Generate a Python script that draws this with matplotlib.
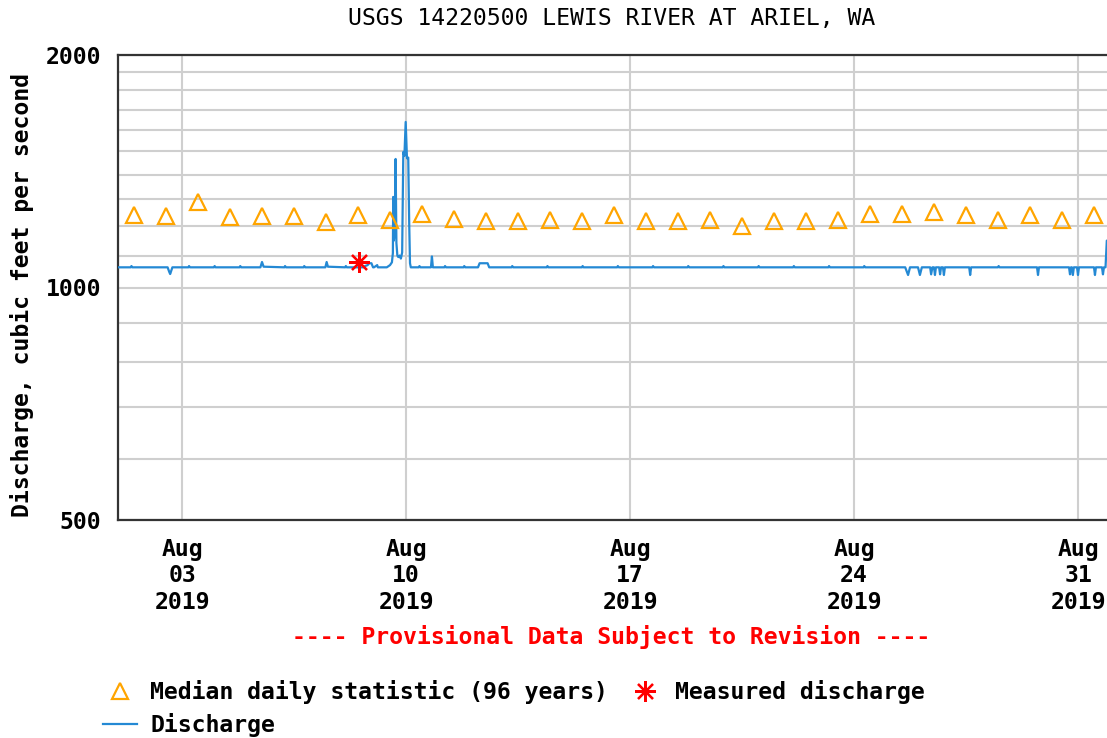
import numpy as np
import pandas as pd
import matplotlib
matplotlib.use("Agg")
import matplotlib.pyplot as plt
import matplotlib.dates as mdates
from matplotlib.lines import Line2D
from matplotlib.ticker import FixedLocator, NullFormatter, FixedFormatter

# ---------------- data ----------------
title = "USGS 14220500 LEWIS RIVER AT ARIEL, WA"
ylabel = "Discharge, cubic feet per second"
start = pd.Timestamp("2019-08-01 00:00")

# daily median statistic (plotted at noon of each day, Aug 1..31)
median_days = list(range(1, 32))
median_vals = [1240, 1238, 1290, 1235, 1238, 1238, 1215, 1242, 1222, 1245,
               1225, 1218, 1218, 1222, 1218, 1240, 1220, 1218, 1222, 1201,
               1218, 1218, 1222, 1246, 1246, 1252, 1240, 1222, 1240, 1222, 1240]

# measured discharge
meas_day = [7.53]
meas_val = [1079]

# instantaneous discharge (time in days after Aug 1 00:00, value in cfs)
q_days = [0.00, 0.40, 0.42, 0.45, 1.00, 1.55, 1.60, 1.63, 1.66, 1.70, 2.20, 2.22, 2.25,
          3.00, 3.02, 3.05, 3.80, 3.82, 3.85, 4.45, 4.50, 4.55, 5.20, 5.22, 5.25,
          5.80, 5.82, 5.85, 6.48, 6.52, 6.56, 7.10, 7.12, 7.15, 7.70, 7.72, 7.80,
          7.85, 7.92, 7.97, 8.00, 8.10, 8.12, 8.20, 8.40, 8.50, 8.56, 8.59, 8.60,
          8.62, 8.65, 8.675, 8.70, 8.73, 8.76, 8.80, 8.84, 8.88, 8.916, 8.95, 8.99,
          9.03, 9.07, 9.10, 9.125, 9.15, 9.40, 9.42, 9.45, 9.78, 9.81, 9.84, 10.20,
          10.22, 10.25, 10.80, 10.82, 10.85, 11.25, 11.30, 11.45, 11.55, 11.60, 12.30,
          12.32, 12.35, 13.40, 13.42, 13.45, 14.50, 14.52, 14.55, 15.60, 15.62, 15.65,
          16.70, 16.72, 16.75, 17.80, 17.82, 17.85, 18.90, 18.92, 18.95, 20.00, 20.02,
          20.05, 21.10, 21.12, 21.15, 22.20, 22.22, 22.25, 23.30, 23.32, 23.35, 24.60,
          24.69, 24.75, 25.00, 25.06, 25.12, 25.38, 25.41, 25.45, 25.50, 25.53, 25.56,
          25.66, 25.69, 25.72, 25.78, 25.81, 25.84, 26.60, 26.63, 26.66, 27.50, 27.52,
          27.55, 28.72, 28.75, 28.78, 29.72, 29.75, 29.78, 29.81, 29.84, 29.87, 29.97,
          30.00, 30.03, 30.50, 30.53, 30.56, 30.75, 30.78, 30.81, 30.86, 30.90, 31.00]
q_vals = [1062, 1062, 1066, 1062, 1062, 1062, 1048, 1041, 1050, 1062, 1062, 1066, 1062,
          1062, 1066, 1062, 1062, 1066, 1062, 1062, 1079, 1064, 1062, 1066, 1062,
          1062, 1066, 1062, 1062, 1079, 1064, 1062, 1066, 1062, 1062, 1066, 1069,
          1075, 1075, 1062, 1062, 1069, 1062, 1062, 1062, 1069, 1078, 1108, 1310,
          1150, 1180, 1467, 1142, 1100, 1095, 1100, 1090, 1110, 1498, 1480, 1638,
          1470, 1473, 1212, 1075, 1062, 1062, 1066, 1062, 1062, 1097, 1062, 1062,
          1066, 1062, 1062, 1066, 1062, 1062, 1075, 1075, 1075, 1062, 1062,
          1066, 1062, 1062, 1066, 1062, 1062, 1066, 1062, 1062, 1066, 1062,
          1062, 1066, 1062, 1062, 1066, 1062, 1062, 1066, 1062, 1062, 1066,
          1062, 1062, 1066, 1062, 1062, 1066, 1062, 1062, 1066, 1062, 1062,
          1038, 1062, 1062, 1038, 1062, 1062, 1040, 1062, 1062, 1038, 1062,
          1062, 1040, 1062, 1062, 1038, 1062, 1062, 1038, 1062, 1062, 1066,
          1062, 1062, 1038, 1062, 1062, 1040, 1062, 1062, 1038, 1062, 1062,
          1038, 1062, 1062, 1038, 1062, 1062, 1040, 1062, 1062, 1150, 1150]

y_major = [500, 1000, 2000]
y_minor = [600, 700, 800, 900, 1100, 1200, 1300, 1400, 1500, 1600, 1700, 1800, 1900]
x_tick_dates = ["2019-08-03", "2019-08-10", "2019-08-17", "2019-08-24", "2019-08-31"]

provisional = "---- Provisional Data Subject to Revision ----"
leg_labels = ["Median daily statistic (96 years)", "Discharge", "Measured discharge"]

# ---------------- colours / style ----------------
C_LINE = "#2489d4"
C_TRI = "#ffa500"
C_MEAS = "#ff0000"
C_GRID = "#cfcfcf"
C_FRAME = "#333333"
MONO = "DejaVu Sans Mono"
FS = 16.7

W, H = 1107, 738
fig = plt.figure(figsize=(W / 100, H / 100), dpi=100)
L, R, T, B = 118, 1110, 55, 520
ax = fig.add_axes([L / W, 1 - B / H, (R - L) / W, (B - T) / H])

med_x = [start + pd.Timedelta(days=d - 1, hours=12) for d in median_days]
q_x = [start + pd.Timedelta(days=d) for d in q_days]
m_x = [start + pd.Timedelta(days=d) for d in meas_day]

ax.plot(q_x, q_vals, color=C_LINE, lw=1.6, zorder=3)
ax.plot(med_x, median_vals, ls="none", marker="^", ms=12, mfc="none",
        mec=C_TRI, mew=1.6, zorder=4)
ax.plot(m_x, meas_val, ls="none", marker=(8, 2, 0), ms=15, mec=C_MEAS,
        mew=1.6, zorder=5)

ax.set_yscale("log")
ax.set_ylim(500, 2000)
ax.set_xlim(start, start + pd.Timedelta(days=31))

ax.yaxis.set_major_locator(FixedLocator(y_major))
ax.yaxis.set_major_formatter(FixedFormatter([str(v) for v in y_major]))
ax.yaxis.set_minor_locator(FixedLocator(y_minor))
ax.yaxis.set_minor_formatter(NullFormatter())

ax.xaxis.set_major_locator(FixedLocator([mdates.date2num(pd.Timestamp(d)) for d in x_tick_dates]))
ax.xaxis.set_major_formatter(mdates.DateFormatter("%b\n%d\n%Y"))
ax.xaxis.set_minor_locator(FixedLocator([]))

ax.grid(True, which="major", axis="x", color=C_GRID, lw=1.5, zorder=0)
ax.grid(True, which="both", axis="y", color=C_GRID, lw=1.5, zorder=0)
ax.set_axisbelow(True)

ax.tick_params(axis="both", which="both", length=0)
ax.tick_params(axis="y", pad=12)
ax.tick_params(axis="x", pad=13)
for lab in ax.get_yticklabels():
    lab.set_fontfamily(MONO); lab.set_fontweight("bold"); lab.set_fontsize(FS)
for lab in ax.get_xticklabels():
    lab.set_fontfamily(MONO); lab.set_fontweight("bold"); lab.set_fontsize(FS)
    lab.set_linespacing(1.18)

for s in ["left", "top", "bottom"]:
    ax.spines[s].set_color(C_FRAME)
    ax.spines[s].set_linewidth(1.6)
ax.spines["right"].set_visible(False)

fig.text(612 / W, 1 - 18 / H, title, ha="center", va="center",
         family=MONO, fontsize=FS)
fig.text(22 / W, 1 - 295 / H, ylabel, ha="center", va="center", rotation=90,
         family=MONO, fontweight="bold", fontsize=FS)
fig.text(611 / W, 1 - 637 / H, provisional, ha="center", va="center",
         family=MONO, fontweight="bold", fontsize=FS, color=C_MEAS)

handles = [
    Line2D([], [], ls="none", marker="^", ms=12, mfc="none", mec=C_TRI, mew=1.6),
    Line2D([], [], color=C_LINE, lw=1.6),
    Line2D([], [], ls="none", marker=(8, 2, 0), ms=15, mec=C_MEAS, mew=1.6),
]
fig.legend(handles, leg_labels, ncol=2, loc="upper left",
           bbox_to_anchor=(103 / W, 1 - 680 / H), frameon=False,
           prop={"family": MONO, "weight": "bold", "size": FS},
           handlelength=1.47, handletextpad=0.56, columnspacing=0.86,
           labelspacing=0.4, borderpad=0, borderaxespad=0)

fig.savefig("out.png", dpi=100)
